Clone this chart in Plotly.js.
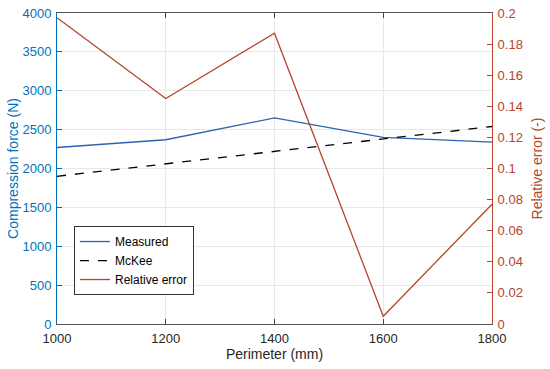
<!DOCTYPE html>
<html>
<head>
<meta charset="utf-8">
<script src="https://cdn.plot.ly/plotly-3.0.1.min.js"></script>
<style>html,body{margin:0;padding:0;background:#fff}#chart{width:550px;height:369px}</style>
</head>
<body>
<div id="chart"></div>
<script>
var perimeter = [1000, 1200, 1400, 1600, 1800];
var measured = [2270, 2370, 2650, 2400, 2340];
var mckee = [1900, 2060, 2220, 2380, 2540];
var relError = [0.197, 0.145, 0.187, 0.005, 0.077];

var blue = '#0072BD';
var red = '#B5452B';
var font = 'Arial, "Liberation Sans", sans-serif';

var traces = [
  {x: perimeter, y: measured, name: 'Measured', mode: 'lines', line: {color: '#2F62AE', width: 1.3}, yaxis: 'y'},
  {x: perimeter, y: mckee, name: 'McKee', mode: 'lines', line: {color: '#000', width: 1.3, dash: 'dash'}, yaxis: 'y'},
  {x: perimeter, y: relError, name: 'Relative error', mode: 'lines', line: {color: red, width: 1.3}, yaxis: 'y2'}
];

var layout = {
  width: 550, height: 369,
  margin: {l: 57, r: 58, t: 13, b: 45},
  paper_bgcolor: '#fff', plot_bgcolor: '#fff',
  font: {family: font, size: 13, color: '#262626'},
  showlegend: true,
  legend: {x: 0.039, y: 0.315, xanchor: 'left', yanchor: 'top', bgcolor: '#fff', bordercolor: '#333', borderwidth: 1,
           font: {family: font, size: 12, color: '#000'}, tracegroupgap: 0},
  xaxis: {range: [1000, 1800], tickvals: perimeter, ticks: 'inside', ticklen: 5, tickcolor: '#444',
          showline: true, linecolor: '#555', linewidth: 1, mirror: 'ticks',
          showgrid: true, gridcolor: '#E8E8E8', zeroline: false, ticklabelstandoff: 2,
          tickfont: {size: 13, color: '#262626'},
          title: {text: 'Perimeter (mm)', font: {size: 14, color: '#262626'}, standoff: 4}},
  yaxis: {range: [0, 4000], dtick: 500, ticks: 'inside', ticklen: 5, tickcolor: blue,
          showline: true, linecolor: blue, linewidth: 1, ticklabelstandoff: 2,
          showgrid: true, gridcolor: '#E8E8E8', zeroline: false,
          tickfont: {size: 13, color: blue},
          title: {text: 'Compression force (N)', font: {size: 14, color: blue}, standoff: 0}},
  yaxis2: {range: [0, 0.2], dtick: 0.02, overlaying: 'y', side: 'right', ticks: 'inside', ticklen: 5, tickcolor: red,
           showline: true, linecolor: red, linewidth: 1, showgrid: false, zeroline: false, ticklabelstandoff: 2,
           tickfont: {size: 13, color: red},
           title: {text: 'Relative error (-)', font: {size: 14, color: red}, standoff: 10}}
};

Plotly.newPlot('chart', traces, layout, {displayModeBar: false, staticPlot: true});
</script>
</body>
</html>
